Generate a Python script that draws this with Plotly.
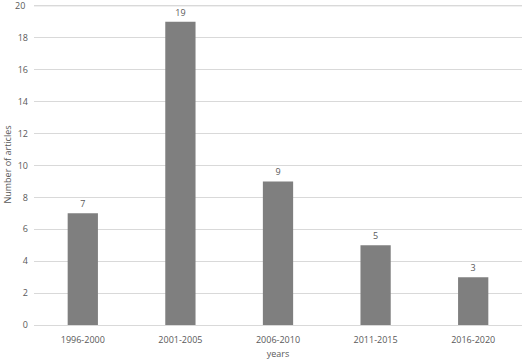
import plotly.graph_objects as go

categories = ["1996-2000", "2001-2005", "2006-2010", "2011-2015", "2016-2020"]
articles = [7, 19, 9, 5, 3]
y_ticks = [0, 2, 4, 6, 8, 10, 12, 14, 16, 18, 20]
y_max = 20

fig = go.Figure(go.Bar(
    x=categories, y=articles,
    marker=dict(color="#7f7f7f", line=dict(width=0)),
    width=0.31,
    text=[str(v) for v in articles],
    textposition="outside",
    textfont=dict(size=9, color="#595959", family="Open Sans"),
    cliponaxis=False,
))

fig.update_layout(
    width=529, height=362,
    margin=dict(l=34, r=7, t=4, b=37),
    paper_bgcolor="white", plot_bgcolor="white",
    font=dict(family="Open Sans", size=9, color="#595959"),
    showlegend=False,
    bargap=0.69,
)
fig.update_xaxes(
    showgrid=False, showline=True, linecolor="#d9d9d9", linewidth=1,
    tickfont=dict(size=9, color="#595959"), ticks="", ticklabelstandoff=6,
    title=dict(text="years", font=dict(size=9, color="#595959"), standoff=5),
)
fig.update_yaxes(
    range=[0, 20.12], tickmode="array", tickvals=y_ticks,
    showgrid=True, gridcolor="#d9d9d9", gridwidth=1,
    zeroline=False, tickfont=dict(size=9, color="#595959"), ticks="", ticklabelstandoff=5,
    title=dict(text="Number of articles", font=dict(size=9, color="#595959"), standoff=4),
)
# top gridline and its label, drawn explicitly so they are not dropped at the edge
fig.add_shape(type="line", xref="paper", yref="y", x0=0, x1=1, y0=y_max, y1=y_max,
              line=dict(color="#d9d9d9", width=1), layer="below")
fig.add_annotation(xref="paper", yref="y", x=0, y=y_max, text=str(y_max), showarrow=False,
                   xanchor="right", xshift=-7, font=dict(size=9, color="#595959"))

fig.write_html("out.html")
